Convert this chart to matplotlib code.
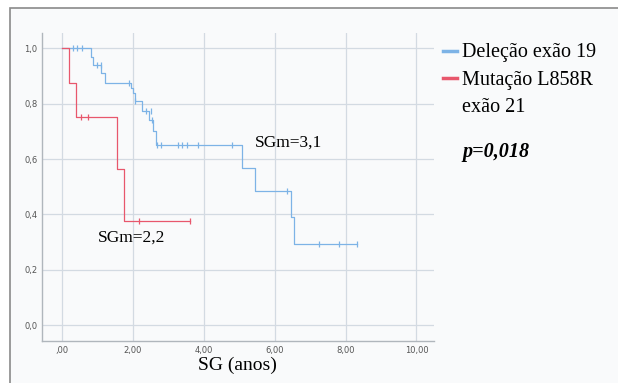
import matplotlib
matplotlib.use("Agg")
import matplotlib.pyplot as plt
from matplotlib.patches import Rectangle
from matplotlib.lines import Line2D

# Deleção exão 19 - step times and survival after each step
del_t = [0, 0.81, 0.88, 1.10, 1.21, 1.95, 2.01, 2.06, 2.25, 2.45, 2.58, 2.64, 5.07, 5.45, 6.46, 6.55, 8.32]
del_s = [1.0, 0.97, 0.94, 0.91, 0.875, 0.857, 0.839, 0.81, 0.775, 0.74, 0.70, 0.65, 0.567, 0.486, 0.389, 0.292, 0.292]
del_cens_t = [0.30, 0.43, 0.56, 0.98, 1.09, 1.89, 2.07, 2.37, 2.51, 2.54, 2.69, 2.80, 3.28, 3.40, 3.53, 3.85, 4.79, 6.35, 7.24, 7.83, 8.32]
del_cens_s = [1.0, 1.0, 1.0, 0.94, 0.94, 0.875, 0.81, 0.775, 0.775, 0.74, 0.65, 0.65, 0.65, 0.65, 0.65, 0.65, 0.65, 0.486, 0.292, 0.292, 0.292]

# Mutação L858R exão 21
mut_t = [0, 0.21, 0.41, 1.55, 1.75, 3.60]
mut_s = [1.0, 0.875, 0.75, 0.5625, 0.375, 0.375]
mut_cens_t = [0.54, 0.74, 2.17, 3.60]
mut_cens_s = [0.75, 0.75, 0.375, 0.375]

xticks = [0, 2, 4, 6, 8, 10]
xtick_labels = [",00", "2,00", "4,00", "6,00", "8,00", "10,00"]
yticks = [0.0, 0.2, 0.4, 0.6, 0.8, 1.0]
ytick_labels = ["0,0", "0,2", "0,4", "0,6", "0,8", "1,0"]

blue = "#7db3e6"
red = "#e8576c"
serif = "Liberation Serif"

fig = plt.figure(figsize=(6.18, 3.83), dpi=100)
fig.patch.set_facecolor("white")
# outer frame
frame = Rectangle((10 / 618, -0.05), 1.0, 1 - 8 / 383 + 0.05, transform=fig.transFigure,
                  facecolor="#f9fafb", edgecolor="#8a8a8a", linewidth=1.2, zorder=-5)
fig.patches.append(frame)

ax = fig.add_axes([0.0675, 0.1104, 0.635, 0.8034])
ax.set_zorder(1)
ax.set_facecolor("none")
ax.set_xlim(-0.57, 10.5)
ax.set_ylim(-0.056, 1.055)

ax.step(del_t, del_s, where="post", color=blue, lw=0.9)
ax.plot(del_cens_t, del_cens_s, ls="none", marker="|", ms=5, mew=0.9, color=blue)
ax.step(mut_t, mut_s, where="post", color=red, lw=0.9)
ax.plot(mut_cens_t, mut_cens_s, ls="none", marker="|", ms=5, mew=0.9, color=red)

ax.set_xticks(xticks)
ax.set_xticklabels(xtick_labels)
ax.set_yticks(yticks)
ax.set_yticklabels(ytick_labels)
ax.tick_params(length=0, labelsize=6, labelcolor="#555555")
ax.tick_params(axis="x", pad=4)
ax.tick_params(axis="y", pad=3)
ax.grid(True, color="#d3dae2", lw=0.9)
ax.set_axisbelow(True)
for side in ["top", "right"]:
    ax.spines[side].set_visible(False)
for side in ["left", "bottom"]:
    ax.spines[side].set_color("#b0b6bc")
    ax.spines[side].set_linewidth(1.0)

ax.set_xlabel("SG (anos)", family=serif, fontsize=14, labelpad=1)

ax.text(5.45, 0.66, "SGm=3,1", family=serif, fontsize=12.5, va="center", ha="left")
ax.text(1.02, 0.315, "SGm=2,2", family=serif, fontsize=12.5, va="center", ha="left")

# legend drawn by hand to keep the spacing of the original
leg_labels = ["Deleção exão 19", "Mutação L858R", "exão 21"]
leg_y = [53, 80, 107]
leg_colors = [blue, red, None]
for lab, yy, col in zip(leg_labels, leg_y, leg_colors):
    fy = 1 - yy / 383
    if col is not None:
        fig.lines.append(Line2D([443 / 618, 457 / 618], [fy + 0.004, fy + 0.004], color=col, lw=2.5,
                                transform=fig.transFigure))
    fig.text(462 / 618, fy, lab, family=serif, fontsize=14.5, va="center", ha="left")

fig.text(462 / 618, 1 - 152 / 383, "p=0,018", family=serif, fontsize=14.5, weight="bold",
         style="italic", va="center", ha="left")

fig.savefig("out.png", dpi=100)
